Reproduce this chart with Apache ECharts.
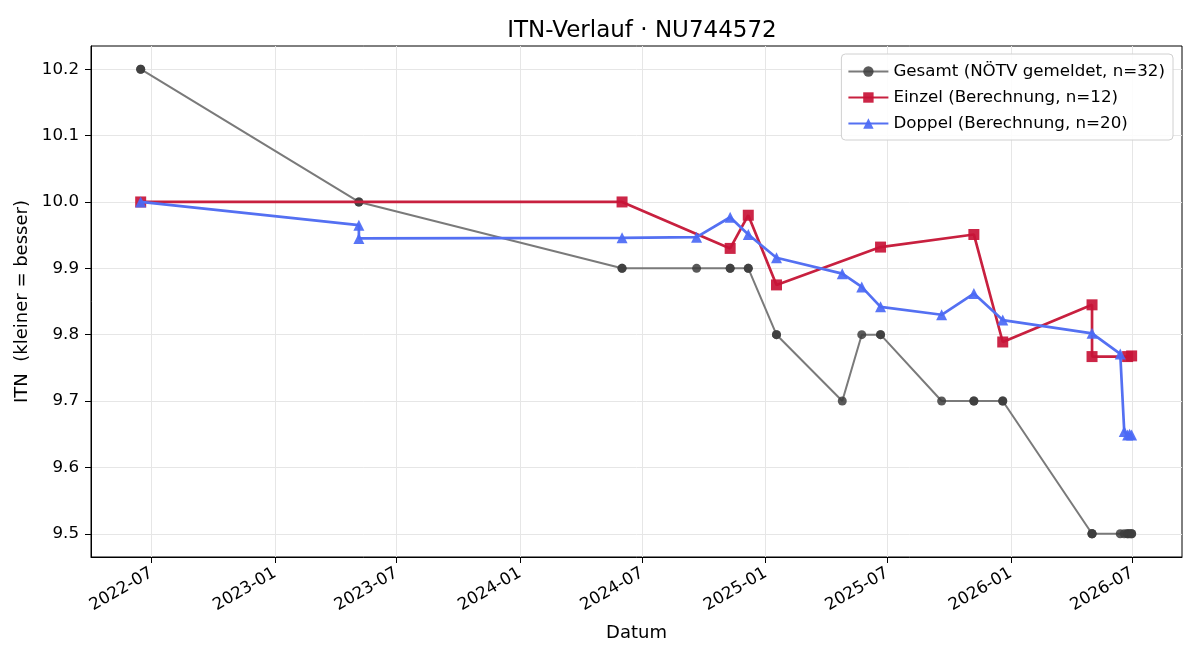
<!DOCTYPE html>
<html>
<head>
<meta charset="utf-8">
<script src="https://cdn.jsdelivr.net/npm/echarts@6/dist/echarts.min.js"></script>
<style>
  html, body { margin: 0; padding: 0; background: #fff; }
  #main { width: 1200px; height: 660px; }
</style>
</head>
<body>
<div id="main"></div>
<script>
// ITN history
const gesamtDates = [
  "2022-06-15", "2022-06-15", "2023-05-06", "2023-05-06", "2024-06-01", "2024-06-01",
  "2024-09-20", "2024-11-09", "2024-11-09", "2024-12-06", "2024-12-06", "2025-01-17",
  "2025-01-17", "2025-04-25", "2025-05-24", "2025-06-21", "2025-06-21", "2025-09-20",
  "2025-11-07", "2025-11-07", "2025-12-20", "2025-12-20", "2026-05-02", "2026-05-02",
  "2026-05-02", "2026-06-13", "2026-06-19", "2026-06-24", "2026-06-24", "2026-06-27",
  "2026-06-30", "2026-06-30"
];
const gesamtValues = [
  10.2, 10.2, 10.0, 10.0, 9.9, 9.9,
  9.9, 9.9, 9.9, 9.9, 9.9, 9.8,
  9.8, 9.7, 9.8, 9.8, 9.8, 9.7,
  9.7, 9.7, 9.7, 9.7, 9.5, 9.5,
  9.5, 9.5, 9.5, 9.5, 9.5, 9.5,
  9.5, 9.5
];

const einzelDates = [
  "2022-06-15", "2024-06-01", "2024-11-09", "2024-12-06", "2025-01-17", "2025-06-21",
  "2025-11-07", "2025-12-20", "2026-05-02", "2026-05-02", "2026-06-24", "2026-06-30"
];
const einzelValues = [
  10.0, 10.0, 9.930, 9.980, 9.875, 9.932,
  9.951, 9.789, 9.845, 9.767, 9.767, 9.768
];

const doppelDates = [
  "2022-06-15", "2023-05-06", "2023-05-06", "2024-06-01", "2024-09-20", "2024-11-09",
  "2024-12-06", "2025-01-17", "2025-04-25", "2025-05-24", "2025-06-21", "2025-09-20",
  "2025-11-07", "2025-12-20", "2026-05-02", "2026-06-13", "2026-06-19", "2026-06-24",
  "2026-06-27", "2026-06-30"
];
const doppelValues = [
  10.0, 9.965, 9.945, 9.946, 9.947, 9.977,
  9.951, 9.916, 9.892, 9.872, 9.842, 9.830,
  9.862, 9.822, 9.802, 9.771, 9.654, 9.649,
  9.650, 9.649
];

const xTickDates = [
  "2022-07-01", "2023-01-01", "2023-07-01", "2024-01-01", "2024-07-01",
  "2025-01-01", "2025-07-01", "2026-01-01", "2026-07-01"
];
const yTicks = [9.5, 9.6, 9.7, 9.8, 9.9, 10.0, 10.1, 10.2];

const ts = (d) => new Date(d + "T00:00:00Z").getTime();
const pairs = (dates, values) => dates.map((d, i) => [ts(d), values[i]]);
const pad2 = (n) => (n < 10 ? "0" : "") + n;

const FONT = "DejaVu Sans";
const chart = echarts.init(document.getElementById("main"), null, { renderer: "canvas" });

chart.setOption({
  animation: false,
  backgroundColor: "#fff",
  textStyle: { fontFamily: FONT },
  title: {
    text: "ITN-Verlauf · NU744572",
    left: 637, top: 15, textAlign: "center",
    textStyle: { fontFamily: FONT, fontSize: 23, fontWeight: "normal", color: "#000" }
  },
  legend: {
    right: 27, top: 54,
    orient: "vertical",
    itemWidth: 40, itemHeight: 13, itemGap: 9,
    padding: [9, 8, 8, 6],
    backgroundColor: "rgba(255,255,255,0.85)",
    borderColor: "#d0d0d0", borderWidth: 1, borderRadius: 4,
    textStyle: { fontFamily: FONT, fontSize: 16.7, lineHeight: 17, color: "#000" },
    data: ["Gesamt (NÖTV gemeldet, n=32)", "Einzel (Berechnung, n=12)", "Doppel (Berechnung, n=20)"]
  },
  grid: {
    left: 91, right: 18, top: 46, bottom: 103,
    show: true, borderColor: "#000", borderWidth: 1, backgroundColor: "transparent"
  },
  xAxis: {
    // timestamps on a value axis, so the ticks can sit on the half-year marks
    type: "value",
    min: ts("2022-04-02"), max: ts("2026-09-13"),
    name: "Datum", nameLocation: "middle", nameGap: 67,
    nameTextStyle: { fontFamily: FONT, fontSize: 18, color: "#000" },
    axisLine: { lineStyle: { color: "#000", width: 1 } },
    axisTick: { show: true, length: 6, lineStyle: { color: "#000" }, customValues: xTickDates.map(ts) },
    axisLabel: {
      customValues: xTickDates.map(ts),
      rotate: 30, margin: 15, fontFamily: FONT, fontSize: 16.7, color: "#000",
      formatter: (v) => { const d = new Date(v); return d.getUTCFullYear() + "-" + pad2(d.getUTCMonth() + 1); }
    },
    splitLine: { show: true, lineStyle: { color: "#e6e6e6", width: 1 } }
  },
  yAxis: {
    type: "value",
    min: 9.465, max: 10.235,
    name: "ITN  (kleiner = besser)", nameLocation: "middle", nameGap: 53,
    nameTextStyle: { fontFamily: FONT, fontSize: 18, color: "#000" },
    axisLine: { show: true, lineStyle: { color: "#000", width: 1 } },
    axisTick: { show: true, length: 6, lineStyle: { color: "#000" }, customValues: yTicks },
    axisLabel: {
      customValues: yTicks, margin: 12, fontFamily: FONT, fontSize: 16.7, color: "#000",
      formatter: (v) => v.toFixed(1)
    },
    splitLine: { show: true, lineStyle: { color: "#e6e6e6", width: 1 } }
  },
  series: [
    {
      name: "Gesamt (NÖTV gemeldet, n=32)",
      type: "line",
      data: pairs(gesamtDates, gesamtValues),
      symbol: "circle", symbolSize: 9,
      lineStyle: { color: "#7a7a7a", width: 2 },
      itemStyle: { color: "rgba(61,61,61,0.85)" },
      z: 2
    },
    {
      name: "Einzel (Berechnung, n=12)",
      type: "line",
      data: pairs(einzelDates, einzelValues),
      symbol: "rect", symbolSize: 11,
      lineStyle: { color: "#c8203f", width: 2.7 },
      itemStyle: { color: "rgba(200,20,55,0.92)" },
      z: 3
    },
    {
      name: "Doppel (Berechnung, n=20)",
      type: "line",
      data: pairs(doppelDates, doppelValues),
      symbol: "triangle", symbolSize: 11,
      lineStyle: { color: "#5470f2", width: 2.7 },
      itemStyle: { color: "rgba(75,105,245,0.92)" },
      z: 4
    }
  ]
});
</script>
</body>
</html>
